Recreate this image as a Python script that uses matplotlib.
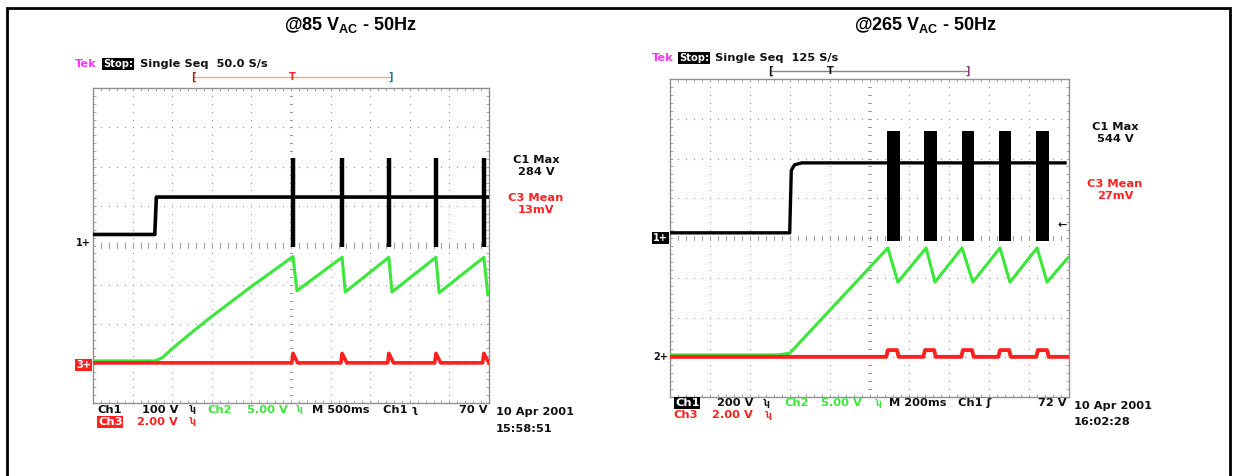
import matplotlib.pyplot as plt
from matplotlib.lines import Line2D
from matplotlib.patches import Rectangle
import numpy as np

# traces in screen divisions (x 0..10, y -4..4)
# --- 85 VAC ---
l_ch1_x = [0.0, 1.56, 1.60, 9.97]
l_ch1_y = [0.28, 0.28, 1.23, 1.23]
l_spike_x = [5.05, 6.29, 7.47, 8.66, 9.87]
l_spike_top = 2.22
l_spike_bot = -0.05
l_ch2_x = [0.0, 1.57, 1.75, 2.0, 2.5, 3.0, 3.5, 4.0, 4.5, 5.05,
           5.15, 6.29, 6.37, 7.47, 7.55, 8.66, 8.74, 9.87, 9.97]
l_ch2_y = [-2.93, -2.93, -2.85, -2.62, -2.2, -1.8, -1.42, -1.04, -0.68, -0.28,
           -1.15, -0.3, -1.18, -0.3, -1.18, -0.3, -1.2, -0.3, -1.25]
l_ch3_x = [0.0, 5.02, 5.05, 5.10, 5.17, 6.26, 6.29, 6.34, 6.41, 7.44, 7.47, 7.52, 7.59,
           8.63, 8.66, 8.71, 8.78, 9.84, 9.87, 9.92, 10.0]
l_ch3_y = [-2.98, -2.98, -2.74, -2.84, -2.98, -2.98, -2.74, -2.84, -2.98, -2.98, -2.74, -2.84, -2.98,
           -2.98, -2.74, -2.84, -2.98, -2.98, -2.74, -2.84, -2.98]

# --- 265 VAC ---
r_ch1_x = [0.0, 3.0, 3.04, 3.12, 3.3, 9.9]
r_ch1_y = [0.13, 0.13, 1.7, 1.84, 1.89, 1.89]
r_burst_x0 = [5.44, 6.37, 7.32, 8.25, 9.17]
r_burst_w = [0.32, 0.32, 0.30, 0.30, 0.33]
r_burst_top = 2.69
r_burst_bot = -0.08
r_ch2_x = [0.0, 2.7, 3.0, 5.46, 5.71, 6.42, 6.64, 7.32, 7.59, 8.27, 8.52, 9.2, 9.45, 9.97]
r_ch2_y = [-2.94, -2.94, -2.9, -0.25, -1.11, -0.25, -1.11, -0.25, -1.11, -0.25, -1.11, -0.25, -1.11, -0.5]
r_ch3_x = [0.0, 5.42, 5.46, 5.69, 5.73, 6.35, 6.39, 6.62, 6.66, 7.30, 7.34, 7.57, 7.61,
           8.23, 8.27, 8.50, 8.54, 9.18, 9.22, 9.45, 9.49, 10.0]
r_ch3_y = [-2.99, -2.99, -2.82, -2.82, -2.99, -2.99, -2.82, -2.82, -2.99, -2.99, -2.82, -2.82, -2.99,
           -2.99, -2.82, -2.82, -2.99, -2.99, -2.82, -2.82, -2.99, -2.99]

W, H = 1237, 476
GREEN = '#3ae83a'
RED = '#ff2020'
GRID = '#9c9c9c'
SC = 'DejaVu Sans'

fig = plt.figure(figsize=(W / 100, H / 100), dpi=100)


def put(px, py, s, ha='left', color='#111111', size=8.2, weight='bold', **kw):
    fig.text(px / W, 1 - py / H, s, ha=ha, va='center', color=color,
             fontsize=size, family=SC, fontweight=weight, **kw)


def hline(x0, x1, py, color, lw=1):
    fig.add_artist(Line2D([x0 / W, x1 / W], [1 - py / H, 1 - py / H],
                          color=color, lw=lw, transform=fig.transFigure))


def scope(x0, y0, x1, y1):
    ax = fig.add_axes([x0 / W, 1 - y1 / H, (x1 - x0) / W, (y1 - y0) / H])
    ax.set_xlim(0, 10)
    ax.set_ylim(-4, 4)
    for s in ax.spines.values():
        s.set_color('#909090')
        s.set_linewidth(1)
    ax.set_xticks([])
    ax.set_yticks([])
    ax.set_xticks(np.arange(0, 10.01, 0.2), minor=True)
    ax.set_yticks(np.arange(-4, 4.01, 0.2), minor=True)
    ax.tick_params(which='minor', direction='in', length=2.2, color=GRID,
                   top=True, right=True, labelbottom=False, labelleft=False)
    # dotted graticule
    for i in range(1, 10):
        yy = np.arange(-4, 4.01, 0.2)
        ax.plot(np.full_like(yy, i), yy, ls='none', marker='s', ms=0.85, mew=0,
                color=GRID, zorder=1)
    for j in range(-3, 4):
        xx = np.arange(0, 10.01, 0.2)
        ax.plot(xx, np.full_like(xx, j), ls='none', marker='s', ms=0.85, mew=0,
                color=GRID, zorder=1)
    # center tick marks
    for t in np.arange(0, 10.01, 0.2):
        ax.plot([t, t], [-0.06, 0.06], color=GRID, lw=0.7, zorder=1)
    for t in np.arange(-4, 4.01, 0.2):
        ax.plot([4.97, 5.03], [t, t], color=GRID, lw=0.7, zorder=1)
    return ax


# outer frame
fig.add_artist(Rectangle((7 / W, -0.2), (1230 - 7) / W, 1.2 - 8 / H, fill=False,
                         edgecolor='black', lw=2, transform=fig.transFigure))

# titles
plt.rcParams['mathtext.fontset'] = 'custom'
plt.rcParams['mathtext.rm'] = 'Liberation Sans:bold'
plt.rcParams['mathtext.bf'] = 'Liberation Sans:bold'
fig.text(350 / W, 1 - 25 / H, r'@85 V$_{\mathrm{AC}}$ - 50Hz', ha='center', va='center',
         fontsize=13, fontweight='bold', family='Liberation Sans')
fig.text(925 / W, 1 - 25 / H, r'@265 V$_{\mathrm{AC}}$ - 50Hz', ha='center', va='center',
         fontsize=13, fontweight='bold', family='Liberation Sans')

# ---------------- left scope ----------------
ax1 = scope(93, 88, 489, 403)
ax1.plot(l_ch2_x, l_ch2_y, color=GREEN, lw=2.2, zorder=3)
ax1.plot(l_ch3_x, l_ch3_y, color=RED, lw=2.6, zorder=4)
ax1.plot(l_ch1_x, l_ch1_y, color='black', lw=2.6, zorder=5)
ax1.vlines(l_spike_x, l_spike_bot, l_spike_top, color='black', lw=3.2, zorder=5)

put(75, 64, 'Tek', color='#ff33ff')
put(103, 64, 'Stop:', color='white', size=7.2,
    bbox=dict(facecolor='black', edgecolor='none', pad=0.5))
put(140, 64, 'Single Seq  50.0 S/s')
hline(194, 390, 77, '#f2a0a0')
put(193, 77, '[', color='#a02020', ha='center', size=7)
put(292, 77, 'T', color=RED, ha='center', size=7)
put(391, 77, ']', color='#208080', ha='center', size=7)
put(536, 160, 'C1 Max', ha='center')
put(536, 172, '284 V', ha='center')
put(536, 198, 'C3 Mean', ha='center', color=RED)
put(536, 210, '13mV', ha='center', color=RED)
put(91, 243, '1+', ha='right', size=7)
put(91, 365, '3+', ha='right', size=7, color='white',
    bbox=dict(facecolor=RED, edgecolor='none', pad=0.6))
put(97, 410, 'Ch1')
put(178, 410, '100 V', ha='right')
put(190, 410, 'ʮ', size=6)
put(207, 410, 'Ch2', color=GREEN)
put(288, 410, '5.00 V', ha='right', color=GREEN)
put(297, 410, 'ʮ', size=6, color=GREEN)
put(312, 410, 'M 500ms')
put(383, 410, 'Ch1 ʅ')
put(487, 410, '70 V', ha='right')
put(98, 422, 'Ch3', color='white', bbox=dict(facecolor=RED, edgecolor='none', pad=0.6))
put(178, 422, '2.00 V', ha='right', color=RED)
put(190, 422, 'ʮ', size=6, color=RED)
put(496, 412, '10 Apr 2001')
put(496, 429, '15:58:51')

# ---------------- right scope ----------------
ax2 = scope(670, 79, 1069, 397)
ax2.plot(r_ch2_x, r_ch2_y, color=GREEN, lw=2.2, zorder=3)
ax2.plot(r_ch3_x, r_ch3_y, color=RED, lw=2.8, zorder=4)
ax2.plot(r_ch1_x, r_ch1_y, color='black', lw=2.4, zorder=5)
ax2.bar(r_burst_x0, r_burst_top - r_burst_bot, width=r_burst_w, bottom=r_burst_bot,
        align='edge', color='black', zorder=5)

put(652, 58, 'Tek', color='#ff33ff')
put(679, 58, 'Stop:', color='white', size=7.2,
    bbox=dict(facecolor='black', edgecolor='none', pad=0.5))
put(715, 58, 'Single Seq  125 S/s')
hline(771, 967, 71, '#888888')
put(770, 71, '[', ha='center', size=7)
put(830, 71, 'T', ha='center', size=7)
put(968, 71, ']', color='#804080', ha='center', size=7)
put(1115, 127, 'C1 Max', ha='center')
put(1115, 139, '544 V', ha='center')
put(1115, 184, 'C3 Mean', ha='center', color=RED)
put(1115, 196, '27mV', ha='center', color=RED)
put(1067, 225, '←', ha='right', size=8)
put(668, 238, '1+', ha='right', size=7, color='white',
    bbox=dict(facecolor='black', edgecolor='none', pad=0.6))
put(668, 357, '2+', ha='right', size=7)
put(675, 403, 'Ch1', color='white', bbox=dict(facecolor='black', edgecolor='none', pad=0.6))
put(753, 403, '200 V', ha='right')
put(764, 403, 'ʮ', size=6)
put(784, 403, 'Ch2', color=GREEN)
put(862, 403, '5.00 V', ha='right', color=GREEN)
put(876, 403, 'ʮ', size=6, color=GREEN)
put(889, 403, 'M 200ms')
put(958, 403, 'Ch1 ʃ')
put(1066, 403, '72 V', ha='right')
put(673, 415, 'Ch3', color=RED)
put(753, 415, '2.00 V', ha='right', color=RED)
put(766, 415, 'ʮ', size=6, color=RED)
put(1074, 406, '10 Apr 2001')
put(1074, 422, '16:02:28')

fig.savefig('out.png', dpi=100)
